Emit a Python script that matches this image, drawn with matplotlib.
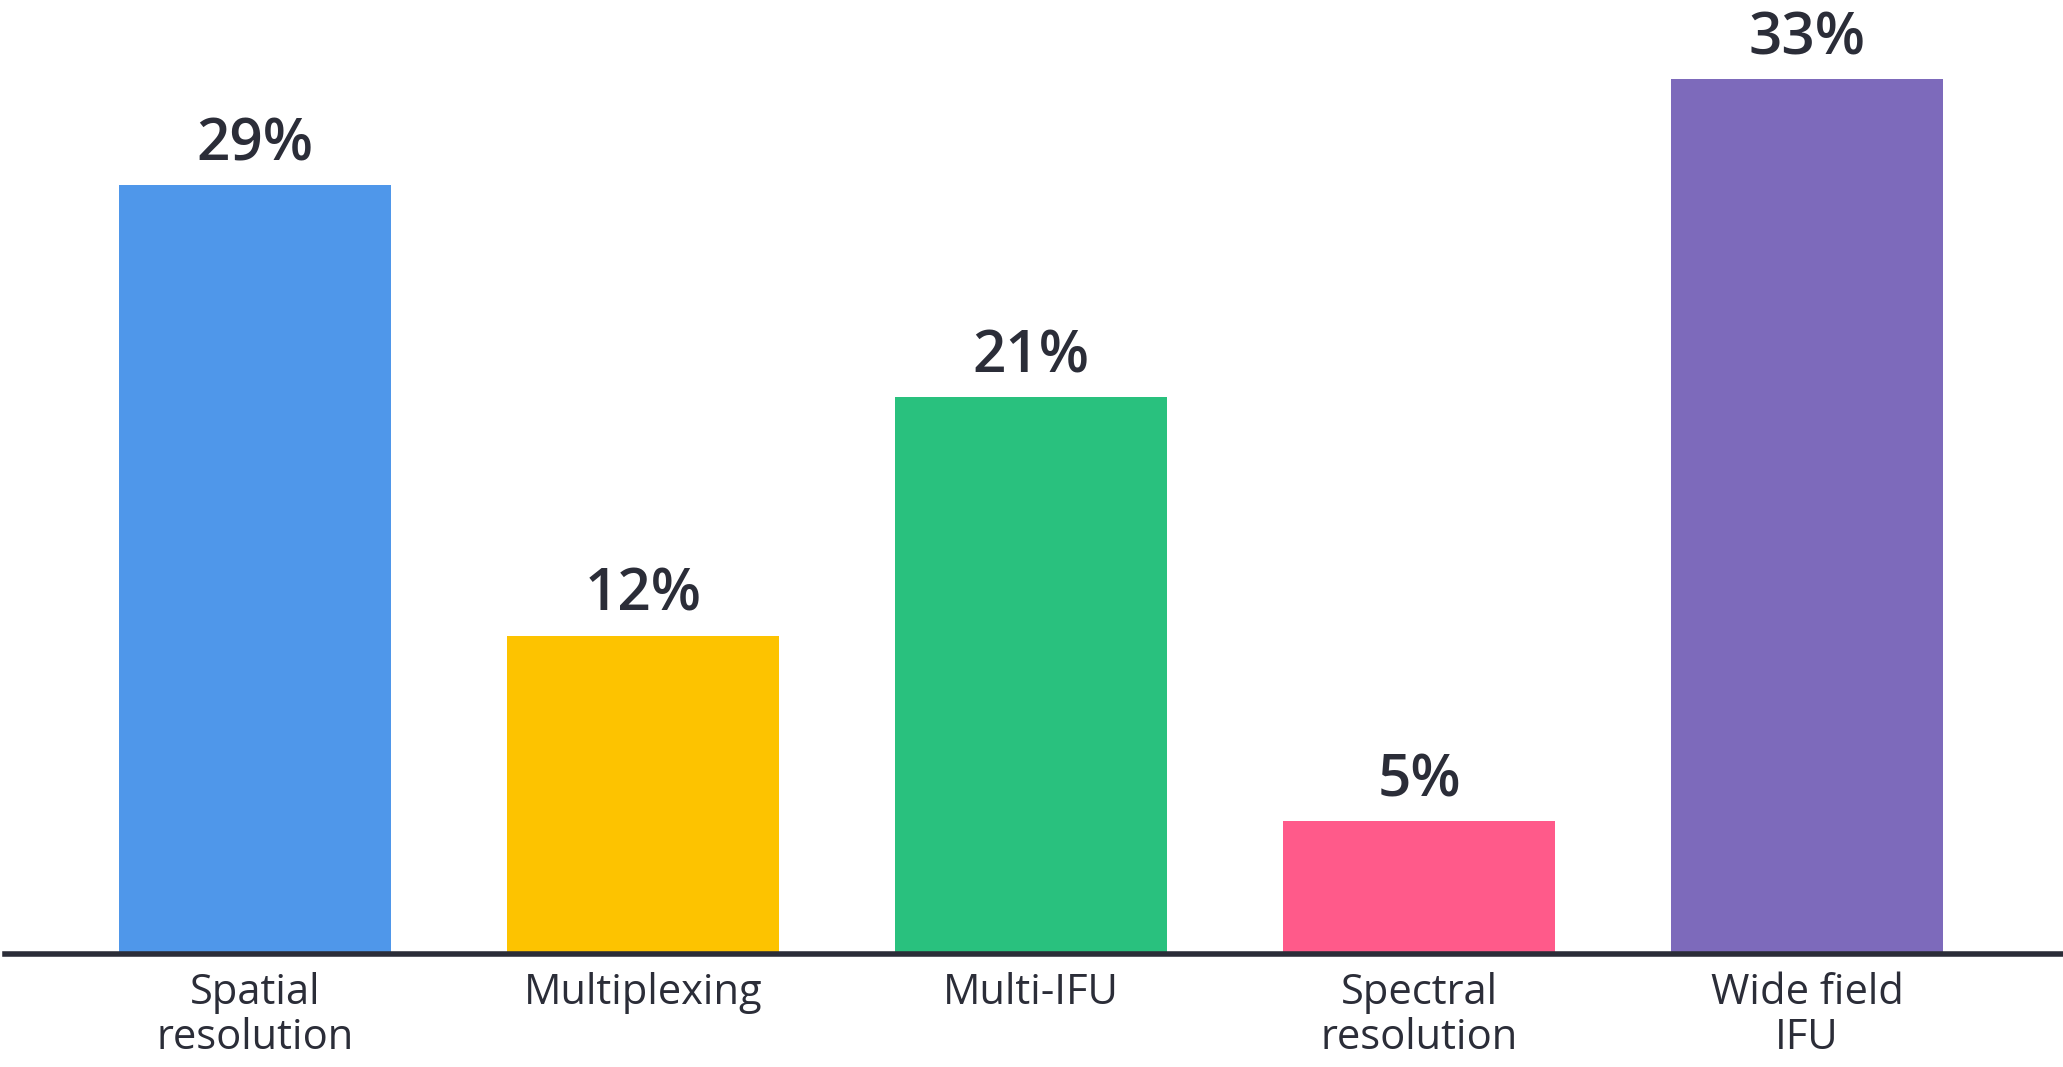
import matplotlib.pyplot as plt
import numpy as np

categories = ['Spatial\nresolution', 'Multiplexing', 'Multi-IFU', 'Spectral\nresolution', 'Wide field\nIFU']
values = [29, 12, 21, 5, 33]
colors = ['#4F97EA', '#FDC300', '#29C17E', '#FF5A8A', '#7D6ABB']

text_color = '#2B2D38'
plt.rcParams['font.family'] = ['Open Sans', 'DejaVu Sans']

fig = plt.figure(figsize=(20.63, 10.67), dpi=100)
ax = fig.add_axes([0.0024, 0.106, 0.9976, 0.894])

x = np.arange(len(categories))
bars = ax.bar(x, values, width=0.70, color=colors, zorder=2)

for bar, v in zip(bars, values):
    ax.annotate(f'{v}%', (bar.get_x() + bar.get_width() / 2, bar.get_height()),
                xytext=(0, 8), textcoords='offset points',
                ha='center', va='bottom', fontsize=42, fontweight='semibold',
                color=text_color)

ax.set_xlim(-0.645, 4.66)
ax.set_ylim(0, 36)
ax.set_xticks(x)
ax.set_xticklabels(categories, fontsize=30, fontweight='medium', color=text_color,
                   linespacing=1.1)
ax.tick_params(axis='x', length=0, pad=13)
ax.set_yticks([])

for s in ['top', 'right', 'left']:
    ax.spines[s].set_visible(False)
ax.spines['bottom'].set_color(text_color)
ax.spines['bottom'].set_linewidth(4)
ax.spines['bottom'].set_zorder(3)

fig.savefig('out.png', dpi=100)
